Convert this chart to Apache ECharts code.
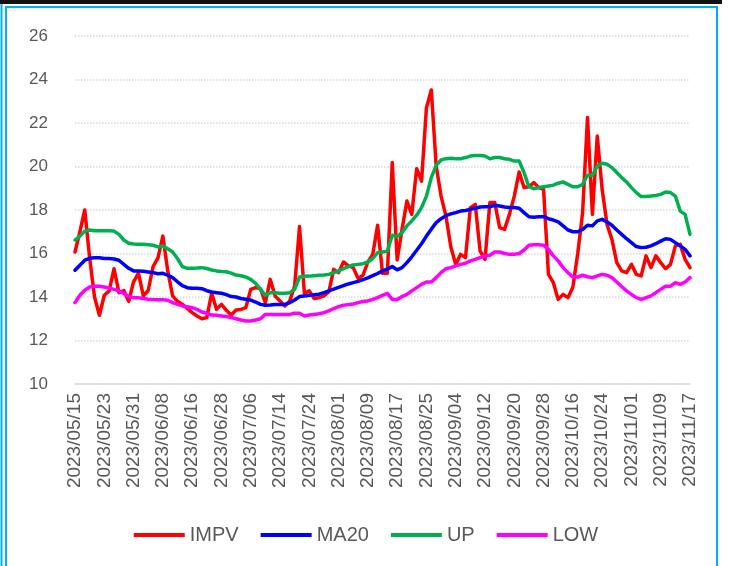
<!DOCTYPE html>
<html>
<head>
<meta charset="utf-8">
<script src="https://cdn.jsdelivr.net/npm/echarts@6/dist/echarts.min.js"></script>
<style>
html,body{margin:0;padding:0;background:#fff;}
#chart{width:732px;height:566px;}
</style>
</head>
<body>
<div id="chart"></div>
<script>
// Trading days (category axis)
const may = ['15','16','17','18','19','22','23','24','25','26','29','30','31'];
const jun = ['01','02','05','06','07','08','09','12','13','14','15','16','19','20','21','26','27','28','29','30'];
const jul = ['03','04','05','06','07','10','11','12','13','14','17','18','19','20','21','24','25','26','27','28','31'];
const aug = ['01','02','03','04','07','08','09','10','11','14','15','16','17','18','21','22','23','24','25','28','29','30','31'];
const sep = ['01','04','05','06','07','08','11','12','13','14','15','18','19','20','21','22','25','26','27','28'];
const oct = ['09','10','11','12','13','16','17','18','19','20','23','24','25','26','27','30','31'];
const nov = ['01','02','03','06','07','08','09','10','13','14','15','16','17'];
const months = [['05', may], ['06', jun], ['07', jul], ['08', aug], ['09', sep], ['10', oct], ['11', nov]];
const dates = [];
months.forEach(function (m) { m[1].forEach(function (d) { dates.push('2023/' + m[0] + '/' + d); }); });

const impv = [
  16.07, 17.0, 18.0, 15.8, 14.0, 13.16, 14.08, 14.28, 15.3, 14.2,
  14.3, 13.8, 14.7, 15.1, 14.05, 14.3, 15.4, 15.8, 16.8, 15.2,
  14.05, 13.8, 13.66, 13.47, 13.28, 13.13, 13.0, 13.05, 14.17, 13.43,
  13.66, 13.39, 13.17, 13.4, 13.43, 13.51, 14.35, 14.43, 14.38, 13.74,
  14.81, 14.05, 13.82, 13.59, 13.82, 14.5, 17.24, 14.17, 14.28, 13.93,
  13.97, 14.05, 14.23, 15.27, 15.12, 15.61, 15.43, 15.35, 14.85, 15.0,
  15.61, 15.96, 17.3, 15.09, 15.09, 20.18, 15.7, 17.11, 18.41, 17.8,
  19.9, 19.33, 22.7, 23.52, 20.02, 18.64, 17.72, 16.3, 15.5, 15.96,
  15.81, 18.11, 18.26, 16.11, 15.73, 18.34, 18.34, 17.19, 17.11, 17.8,
  18.64, 19.75, 19.03, 19.07, 19.26, 19.03, 18.95, 15.04, 14.66, 13.89,
  14.12, 13.97, 14.45, 16.0, 17.88, 22.25, 17.8, 21.4, 18.95, 17.34,
  16.65, 15.58, 15.2, 15.12, 15.5, 15.04, 14.97, 15.89, 15.35, 15.89,
  15.58, 15.3, 15.5, 16.35, 16.42, 15.73, 15.35
];
const ma20 = [
  15.23, 15.46, 15.69, 15.78, 15.8, 15.8, 15.77, 15.77, 15.75, 15.69,
  15.5, 15.32, 15.2, 15.2, 15.18, 15.15, 15.12, 15.07, 15.09, 15.0,
  14.89, 14.7, 14.52, 14.43, 14.4, 14.4, 14.38, 14.29, 14.23, 14.2,
  14.17, 14.11, 14.02, 14.0, 13.93, 13.9, 13.86, 13.77, 13.66, 13.62,
  13.63, 13.65, 13.66, 13.66, 13.74, 13.86, 14.02, 14.05, 14.08, 14.1,
  14.13, 14.2, 14.28, 14.36, 14.44, 14.52, 14.6, 14.66, 14.72, 14.8,
  14.88, 14.98, 15.08, 15.2, 15.28, 15.4, 15.25, 15.35, 15.58, 15.85,
  16.15, 16.45, 16.8, 17.12, 17.42, 17.6, 17.74, 17.82, 17.88, 17.95,
  17.98, 18.03, 18.08, 18.14, 18.15, 18.15, 18.22, 18.18, 18.14, 18.11,
  18.11, 18.08, 17.88, 17.69, 17.67, 17.69, 17.69, 17.6, 17.54, 17.45,
  17.27, 17.08, 17.0, 17.0, 17.11, 17.3, 17.27, 17.5, 17.57, 17.45,
  17.3, 17.08, 16.88, 16.68, 16.5, 16.32, 16.27, 16.29, 16.35, 16.45,
  16.57, 16.68, 16.65, 16.5, 16.35, 16.19, 15.89
];
const up = [
  16.62, 16.8, 17.03, 17.08, 17.05, 17.05, 17.05, 17.05, 17.03, 16.88,
  16.62, 16.47, 16.44, 16.42, 16.42, 16.4, 16.38, 16.3, 16.35, 16.22,
  16.07, 15.77, 15.4, 15.32, 15.32, 15.33, 15.35, 15.31, 15.24, 15.2,
  15.17, 15.16, 15.1, 15.01, 14.98, 14.92, 14.81, 14.63, 14.35, 14.08,
  14.2, 14.2, 14.17, 14.17, 14.2, 14.35, 14.92, 14.95, 14.96, 14.98,
  15.0, 15.01, 15.04, 15.12, 15.2, 15.3, 15.4, 15.47, 15.5, 15.53,
  15.61, 15.77, 16.04, 16.07, 16.11, 16.84, 16.78, 16.96, 17.27, 17.5,
  17.76, 18.11, 18.64, 19.49, 20.05, 20.3, 20.36, 20.38, 20.36, 20.36,
  20.41, 20.48, 20.51, 20.51, 20.48, 20.36, 20.41, 20.41, 20.36, 20.33,
  20.25, 20.25, 19.72, 19.07, 18.98, 19.03, 19.07, 19.1, 19.14, 19.23,
  19.29, 19.18, 19.07, 19.07, 19.18, 19.6, 19.6, 20.02, 20.15, 20.1,
  19.95, 19.72, 19.49, 19.29, 19.03, 18.8, 18.62, 18.62, 18.64, 18.67,
  18.72, 18.83, 18.8, 18.64, 17.95, 17.8, 16.88
];
const low = [
  13.74, 14.08, 14.31, 14.46, 14.5, 14.49, 14.46, 14.41, 14.35, 14.28,
  14.16, 14.02, 13.97, 13.97, 13.93, 13.9, 13.88, 13.87, 13.87, 13.85,
  13.74, 13.66, 13.59, 13.55, 13.51, 13.43, 13.31, 13.25, 13.17, 13.16,
  13.13, 13.1, 13.06, 13.0, 12.94, 12.9, 12.9, 12.94, 13.0, 13.2,
  13.2, 13.2, 13.2, 13.2, 13.2, 13.25, 13.25, 13.13, 13.17, 13.2,
  13.23, 13.28, 13.36, 13.47, 13.56, 13.62, 13.65, 13.68, 13.74, 13.79,
  13.82, 13.89, 13.97, 14.08, 14.17, 13.89, 13.89, 14.02, 14.12, 14.28,
  14.43, 14.58, 14.69, 14.69, 14.89, 15.12, 15.3, 15.35, 15.43, 15.5,
  15.55, 15.66, 15.73, 15.81, 15.89, 15.92, 16.07, 16.07, 16.0, 15.96,
  15.96, 16.0, 16.16, 16.38, 16.4, 16.4, 16.38, 16.19, 15.89, 15.66,
  15.35, 15.12, 14.92, 14.92, 15.0, 14.93, 14.89, 14.97, 15.04, 15.0,
  14.89, 14.69, 14.48, 14.28, 14.12, 13.97, 13.89, 13.97, 14.05, 14.2,
  14.35, 14.5, 14.5, 14.66, 14.58, 14.69, 14.89
];

const seriesNames = ['IMPV', 'MA20', 'UP', 'LOW'];
const seriesData = [impv, ma20, up, low];
const seriesColors = ['#FF0000', '#0000FF', '#00B050', '#FF00FF'];

const FONT = '"Liberation Sans", Arial, sans-serif';
const chart = echarts.init(document.getElementById('chart'), null, { renderer: 'canvas' });
chart.setOption({
  animation: false,
  backgroundColor: '#ffffff',
  grid: { left: 75, right: 42, top: 36, bottom: 182, containLabel: false },
  legend: {
    data: seriesNames,
    left: 'center',
    top: 520,
    icon: 'rect',
    itemWidth: 51,
    itemHeight: 4,
    itemGap: 22,
    textStyle: { fontSize: 20, color: '#595959', fontFamily: FONT }
  },
  xAxis: {
    type: 'category',
    data: dates,
    boundaryGap: false,
    axisLine: { lineStyle: { color: '#D9D9D9', width: 1.5 } },
    axisTick: { show: false },
    axisLabel: {
      interval: 5,
      rotate: 90,
      margin: 9,
      fontSize: 19,
      color: '#595959',
      fontFamily: FONT
    },
    splitLine: { show: false }
  },
  yAxis: {
    type: 'value',
    min: 10,
    max: 26,
    interval: 2,
    axisLine: { show: false },
    axisTick: { show: false },
    axisLabel: { fontSize: 17, color: '#595959', margin: 27, fontFamily: FONT },
    splitLine: { lineStyle: { color: '#D9D9D9', type: 'dotted', width: 1.5 } }
  },
  series: seriesNames.map(function (n, k) {
    return {
      name: n,
      type: 'line',
      data: seriesData[k],
      symbol: 'none',
      smooth: false,
      color: seriesColors[k],
      lineStyle: { color: seriesColors[k], width: 3.5, cap: 'round', join: 'round' }
    };
  }),
  graphic: [
    { type: 'rect', shape: { x: 0, y: 0, width: 722, height: 4 }, style: { fill: '#111111' }, silent: true },
    { type: 'line', shape: { x1: 5, y1: 7, x2: 718, y2: 7 }, style: { stroke: '#00B0F0', lineWidth: 2 }, silent: true },
    { type: 'line', shape: { x1: 1.5, y1: 4, x2: 1.5, y2: 566 }, style: { stroke: '#00B0F0', lineWidth: 2 }, silent: true },
    { type: 'line', shape: { x1: 6, y1: 7, x2: 6, y2: 566 }, style: { stroke: '#00B0F0', lineWidth: 2 }, silent: true },
    { type: 'line', shape: { x1: 717, y1: 7, x2: 717, y2: 566 }, style: { stroke: '#00B0F0', lineWidth: 2 }, silent: true }
  ]
});
</script>
</body>
</html>
